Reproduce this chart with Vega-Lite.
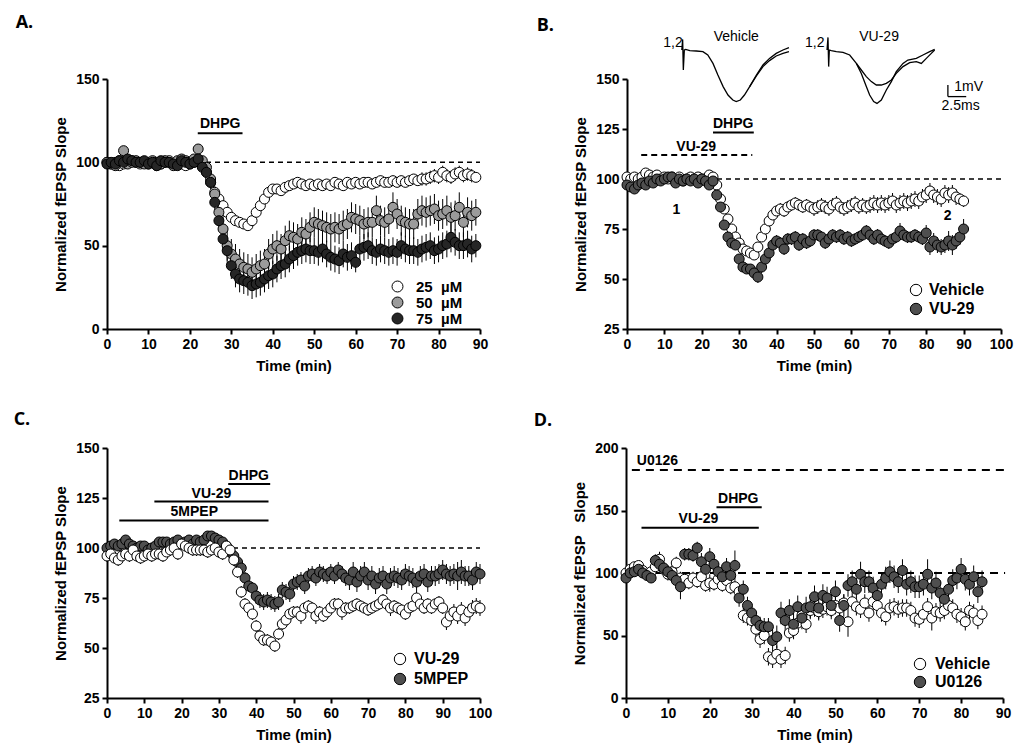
{
"$schema":"https://vega.github.io/schema/vega-lite/v6.json",
"background":"white",
"padding":{"left":13,"top":14,"right":5,"bottom":2},
"spacing":38,
"resolve":{"scale":{"fill":"independent"},"legend":{"fill":"independent"}},
"config":{
 "view":{"stroke":null},
 "axis":{"domainColor":"black","domainWidth":2,"tickColor":"black","tickWidth":2,"tickSize":5,"labelFont":"Liberation Sans","labelFontWeight":"bold","labelFontSize":14,"labelColor":"black","labelPadding":3,"labelFlush":false,"labelOverlap":false,"titleFont":"Liberation Sans","titleFontWeight":"bold","titleFontSize":15,"titleColor":"black","titlePadding":7,"grid":false},
 "legend":{"orient":"none","title":null,"symbolType":"circle","symbolStrokeColor":"black","symbolStrokeWidth":1,"symbolSize":130,"symbolOpacity":1,"labelFont":"Liberation Sans","labelFontWeight":"bold","labelFontSize":16,"labelColor":"black","rowPadding":3,"labelOffset":6,"padding":0},
 "title":{"font":"Open Sans","fontSize":18,"fontWeight":"bold","anchor":"start","frame":"bounds","color":"black"},
 "text":{"font":"Liberation Sans","fontWeight":"bold","fontSize":14,"color":"black"}
},
"datasets":{
"A":[
{"g":"25","t":0,"v":100,"e":1.5},{"g":"25","t":1,"v":99,"e":1.5},{"g":"25","t":2,"v":100,"e":1.5},{"g":"25","t":3,"v":98,"e":1.5},{"g":"25","t":4,"v":99,"e":1.5},{"g":"25","t":5,"v":100,"e":1.5},{"g":"25","t":6,"v":101,"e":1.5},{"g":"25","t":7,"v":100,"e":1.5},{"g":"25","t":8,"v":99,"e":1.5},{"g":"25","t":9,"v":100,"e":1.5},{"g":"25","t":10,"v":99,"e":1.5},{"g":"25","t":11,"v":100,"e":1.5},{"g":"25","t":12,"v":98,"e":1.5},{"g":"25","t":13,"v":99,"e":1.5},{"g":"25","t":14,"v":100,"e":1.5},{"g":"25","t":15,"v":101,"e":1.5},{"g":"25","t":16,"v":99,"e":1.5},{"g":"25","t":17,"v":100,"e":1.5},{"g":"25","t":18,"v":99,"e":1.5},{"g":"25","t":19,"v":98,"e":1.5},{"g":"25","t":20,"v":99,"e":1.5},{"g":"25","t":21,"v":100,"e":1.5},{"g":"25","t":22,"v":101,"e":1.5},{"g":"25","t":23,"v":98,"e":2},{"g":"25","t":24,"v":94,"e":2},{"g":"25","t":25,"v":88,"e":2},{"g":"25","t":26,"v":82,"e":2},{"g":"25","t":27,"v":78,"e":2},{"g":"25","t":28,"v":74,"e":2},{"g":"25","t":29,"v":70,"e":2},{"g":"25","t":30,"v":67,"e":2},{"g":"25","t":31,"v":65,"e":2},{"g":"25","t":32,"v":64,"e":2},{"g":"25","t":33,"v":63,"e":2},{"g":"25","t":34,"v":62,"e":2},{"g":"25","t":35,"v":65,"e":2},{"g":"25","t":36,"v":70,"e":2},{"g":"25","t":37,"v":74,"e":2},{"g":"25","t":38,"v":78,"e":2},{"g":"25","t":39,"v":82,"e":2},{"g":"25","t":40,"v":84,"e":2},{"g":"25","t":41,"v":84,"e":3},{"g":"25","t":42,"v":83,"e":3},{"g":"25","t":43,"v":85,"e":3},{"g":"25","t":44,"v":86,"e":3},{"g":"25","t":45,"v":87,"e":3},{"g":"25","t":46,"v":88,"e":3},{"g":"25","t":47,"v":87,"e":3},{"g":"25","t":48,"v":86,"e":3},{"g":"25","t":49,"v":87,"e":3},{"g":"25","t":50,"v":86,"e":3},{"g":"25","t":51,"v":87,"e":3},{"g":"25","t":52,"v":86,"e":3},{"g":"25","t":53,"v":87,"e":3},{"g":"25","t":54,"v":86,"e":3},{"g":"25","t":55,"v":88,"e":3},{"g":"25","t":56,"v":87,"e":3},{"g":"25","t":57,"v":86,"e":3},{"g":"25","t":58,"v":88,"e":3},{"g":"25","t":59,"v":87,"e":3},{"g":"25","t":60,"v":88,"e":3},{"g":"25","t":61,"v":87,"e":3},{"g":"25","t":62,"v":88,"e":3},{"g":"25","t":63,"v":88,"e":3},{"g":"25","t":64,"v":87,"e":3},{"g":"25","t":65,"v":88,"e":3},{"g":"25","t":66,"v":89,"e":3},{"g":"25","t":67,"v":88,"e":3},{"g":"25","t":68,"v":88,"e":3},{"g":"25","t":69,"v":89,"e":3},{"g":"25","t":70,"v":88,"e":3},{"g":"25","t":71,"v":89,"e":3},{"g":"25","t":72,"v":88,"e":3},{"g":"25","t":73,"v":89,"e":3},{"g":"25","t":74,"v":90,"e":3},{"g":"25","t":75,"v":89,"e":3},{"g":"25","t":76,"v":90,"e":4},{"g":"25","t":77,"v":90,"e":4},{"g":"25","t":78,"v":91,"e":4},{"g":"25","t":79,"v":92,"e":4},{"g":"25","t":80,"v":91,"e":4},{"g":"25","t":81,"v":94,"e":4},{"g":"25","t":82,"v":92,"e":4},{"g":"25","t":83,"v":91,"e":4},{"g":"25","t":84,"v":93,"e":4},{"g":"25","t":85,"v":94,"e":4},{"g":"25","t":86,"v":92,"e":4},{"g":"25","t":87,"v":93,"e":4},{"g":"25","t":88,"v":92,"e":4},{"g":"25","t":89,"v":91,"e":3},
{"g":"50","t":0,"v":100,"e":2},{"g":"50","t":1,"v":99,"e":2},{"g":"50","t":2,"v":98,"e":2},{"g":"50","t":3,"v":101,"e":2},{"g":"50","t":4,"v":107,"e":2},{"g":"50","t":5,"v":99,"e":2},{"g":"50","t":6,"v":100,"e":2},{"g":"50","t":7,"v":101,"e":2},{"g":"50","t":8,"v":100,"e":2},{"g":"50","t":9,"v":99,"e":2},{"g":"50","t":10,"v":100,"e":2},{"g":"50","t":11,"v":101,"e":2},{"g":"50","t":12,"v":100,"e":2},{"g":"50","t":13,"v":99,"e":2},{"g":"50","t":14,"v":101,"e":2},{"g":"50","t":15,"v":100,"e":2},{"g":"50","t":16,"v":98,"e":2},{"g":"50","t":17,"v":101,"e":2},{"g":"50","t":18,"v":102,"e":2},{"g":"50","t":19,"v":101,"e":2},{"g":"50","t":20,"v":100,"e":2},{"g":"50","t":21,"v":102,"e":2},{"g":"50","t":22,"v":108,"e":3},{"g":"50","t":23,"v":101,"e":2},{"g":"50","t":24,"v":97,"e":4},{"g":"50","t":25,"v":90,"e":5},{"g":"50","t":26,"v":81,"e":6},{"g":"50","t":27,"v":70,"e":7},{"g":"50","t":28,"v":60,"e":8},{"g":"50","t":29,"v":50,"e":9},{"g":"50","t":30,"v":45,"e":9},{"g":"50","t":31,"v":42,"e":9},{"g":"50","t":32,"v":39,"e":9},{"g":"50","t":33,"v":37,"e":9},{"g":"50","t":34,"v":36,"e":9},{"g":"50","t":35,"v":34,"e":9},{"g":"50","t":36,"v":36,"e":9},{"g":"50","t":37,"v":38,"e":9},{"g":"50","t":38,"v":39,"e":9},{"g":"50","t":39,"v":45,"e":9},{"g":"50","t":40,"v":48,"e":9},{"g":"50","t":41,"v":50,"e":9},{"g":"50","t":42,"v":48,"e":9},{"g":"50","t":43,"v":53,"e":9},{"g":"50","t":44,"v":56,"e":9},{"g":"50","t":45,"v":55,"e":9},{"g":"50","t":46,"v":54,"e":9},{"g":"50","t":47,"v":58,"e":9},{"g":"50","t":48,"v":57,"e":9},{"g":"50","t":49,"v":61,"e":9},{"g":"50","t":50,"v":64,"e":9},{"g":"50","t":51,"v":63,"e":9},{"g":"50","t":52,"v":62,"e":9},{"g":"50","t":53,"v":61,"e":9},{"g":"50","t":54,"v":60,"e":9},{"g":"50","t":55,"v":61,"e":9},{"g":"50","t":56,"v":60,"e":9},{"g":"50","t":57,"v":62,"e":9},{"g":"50","t":58,"v":63,"e":9},{"g":"50","t":59,"v":67,"e":9},{"g":"50","t":60,"v":66,"e":9},{"g":"50","t":61,"v":65,"e":9},{"g":"50","t":62,"v":63,"e":9},{"g":"50","t":63,"v":64,"e":9},{"g":"50","t":64,"v":64,"e":9},{"g":"50","t":65,"v":71,"e":9},{"g":"50","t":66,"v":65,"e":9},{"g":"50","t":67,"v":64,"e":9},{"g":"50","t":68,"v":66,"e":9},{"g":"50","t":69,"v":73,"e":9},{"g":"50","t":70,"v":69,"e":9},{"g":"50","t":71,"v":65,"e":9},{"g":"50","t":72,"v":64,"e":9},{"g":"50","t":73,"v":63,"e":9},{"g":"50","t":74,"v":63,"e":9},{"g":"50","t":75,"v":69,"e":9},{"g":"50","t":76,"v":71,"e":9},{"g":"50","t":77,"v":70,"e":9},{"g":"50","t":78,"v":71,"e":9},{"g":"50","t":79,"v":72,"e":9},{"g":"50","t":80,"v":68,"e":9},{"g":"50","t":81,"v":69,"e":9},{"g":"50","t":82,"v":71,"e":9},{"g":"50","t":83,"v":67,"e":9},{"g":"50","t":84,"v":68,"e":9},{"g":"50","t":85,"v":73,"e":9},{"g":"50","t":86,"v":64,"e":9},{"g":"50","t":87,"v":70,"e":9},{"g":"50","t":88,"v":68,"e":9},{"g":"50","t":89,"v":70,"e":8},
{"g":"75","t":0,"v":99,"e":2},{"g":"75","t":1,"v":100,"e":2},{"g":"75","t":2,"v":99,"e":2},{"g":"75","t":3,"v":101,"e":2},{"g":"75","t":4,"v":100,"e":2},{"g":"75","t":5,"v":102,"e":2},{"g":"75","t":6,"v":101,"e":2},{"g":"75","t":7,"v":100,"e":2},{"g":"75","t":8,"v":100,"e":2},{"g":"75","t":9,"v":101,"e":2},{"g":"75","t":10,"v":99,"e":2},{"g":"75","t":11,"v":100,"e":2},{"g":"75","t":12,"v":98,"e":2},{"g":"75","t":13,"v":101,"e":2},{"g":"75","t":14,"v":100,"e":2},{"g":"75","t":15,"v":100,"e":2},{"g":"75","t":16,"v":99,"e":2},{"g":"75","t":17,"v":98,"e":2},{"g":"75","t":18,"v":101,"e":2},{"g":"75","t":19,"v":100,"e":2},{"g":"75","t":20,"v":99,"e":2},{"g":"75","t":21,"v":100,"e":2},{"g":"75","t":22,"v":102,"e":2},{"g":"75","t":23,"v":97,"e":2},{"g":"75","t":24,"v":94,"e":3},{"g":"75","t":25,"v":88,"e":4},{"g":"75","t":26,"v":76,"e":5},{"g":"75","t":27,"v":65,"e":6},{"g":"75","t":28,"v":54,"e":7},{"g":"75","t":29,"v":47,"e":8},{"g":"75","t":30,"v":38,"e":8},{"g":"75","t":31,"v":33,"e":8},{"g":"75","t":32,"v":30,"e":8},{"g":"75","t":33,"v":29,"e":8},{"g":"75","t":34,"v":28,"e":8},{"g":"75","t":35,"v":26,"e":8},{"g":"75","t":36,"v":27,"e":8},{"g":"75","t":37,"v":28,"e":8},{"g":"75","t":38,"v":30,"e":8},{"g":"75","t":39,"v":32,"e":8},{"g":"75","t":40,"v":33,"e":8},{"g":"75","t":41,"v":36,"e":8},{"g":"75","t":42,"v":38,"e":8},{"g":"75","t":43,"v":39,"e":8},{"g":"75","t":44,"v":42,"e":8},{"g":"75","t":45,"v":44,"e":8},{"g":"75","t":46,"v":46,"e":8},{"g":"75","t":47,"v":47,"e":8},{"g":"75","t":48,"v":48,"e":8},{"g":"75","t":49,"v":47,"e":8},{"g":"75","t":50,"v":47,"e":8},{"g":"75","t":51,"v":46,"e":8},{"g":"75","t":52,"v":48,"e":8},{"g":"75","t":53,"v":45,"e":8},{"g":"75","t":54,"v":43,"e":8},{"g":"75","t":55,"v":42,"e":8},{"g":"75","t":56,"v":41,"e":8},{"g":"75","t":57,"v":45,"e":8},{"g":"75","t":58,"v":43,"e":8},{"g":"75","t":59,"v":44,"e":8},{"g":"75","t":60,"v":40,"e":6},{"g":"75","t":61,"v":48,"e":8},{"g":"75","t":62,"v":49,"e":8},{"g":"75","t":63,"v":50,"e":8},{"g":"75","t":64,"v":47,"e":8},{"g":"75","t":65,"v":46,"e":8},{"g":"75","t":66,"v":48,"e":8},{"g":"75","t":67,"v":47,"e":8},{"g":"75","t":68,"v":46,"e":8},{"g":"75","t":69,"v":47,"e":8},{"g":"75","t":70,"v":46,"e":8},{"g":"75","t":71,"v":50,"e":8},{"g":"75","t":72,"v":48,"e":8},{"g":"75","t":73,"v":47,"e":8},{"g":"75","t":74,"v":47,"e":8},{"g":"75","t":75,"v":46,"e":8},{"g":"75","t":76,"v":48,"e":8},{"g":"75","t":77,"v":49,"e":8},{"g":"75","t":78,"v":50,"e":8},{"g":"75","t":79,"v":47,"e":8},{"g":"75","t":80,"v":48,"e":8},{"g":"75","t":81,"v":50,"e":8},{"g":"75","t":82,"v":51,"e":8},{"g":"75","t":83,"v":55,"e":9},{"g":"75","t":84,"v":52,"e":8},{"g":"75","t":85,"v":50,"e":8},{"g":"75","t":86,"v":50,"e":8},{"g":"75","t":87,"v":51,"e":8},{"g":"75","t":88,"v":48,"e":8},{"g":"75","t":89,"v":50,"e":7}
],
"B":[
{"g":"Vehicle","t":0,"v":101,"e":1.5},{"g":"Vehicle","t":1,"v":100,"e":1.5},{"g":"Vehicle","t":2,"v":101,"e":1.5},{"g":"Vehicle","t":3,"v":100,"e":1.5},{"g":"Vehicle","t":4,"v":101,"e":1.5},{"g":"Vehicle","t":5,"v":103,"e":1.5},{"g":"Vehicle","t":6,"v":102,"e":1.5},{"g":"Vehicle","t":7,"v":101,"e":1.5},{"g":"Vehicle","t":8,"v":102,"e":1.5},{"g":"Vehicle","t":9,"v":100,"e":1.5},{"g":"Vehicle","t":10,"v":101,"e":1.5},{"g":"Vehicle","t":11,"v":100,"e":1.5},{"g":"Vehicle","t":12,"v":101,"e":1.5},{"g":"Vehicle","t":13,"v":100,"e":1.5},{"g":"Vehicle","t":14,"v":101,"e":1.5},{"g":"Vehicle","t":15,"v":99,"e":1.5},{"g":"Vehicle","t":16,"v":100,"e":1.5},{"g":"Vehicle","t":17,"v":101,"e":1.5},{"g":"Vehicle","t":18,"v":100,"e":1.5},{"g":"Vehicle","t":19,"v":101,"e":1.5},{"g":"Vehicle","t":20,"v":100,"e":1.5},{"g":"Vehicle","t":21,"v":100,"e":1.5},{"g":"Vehicle","t":22,"v":102,"e":1.5},{"g":"Vehicle","t":23,"v":101,"e":1.5},{"g":"Vehicle","t":24,"v":97,"e":2},{"g":"Vehicle","t":25,"v":90,"e":2},{"g":"Vehicle","t":26,"v":85,"e":2},{"g":"Vehicle","t":27,"v":80,"e":2},{"g":"Vehicle","t":28,"v":75,"e":2},{"g":"Vehicle","t":29,"v":71,"e":2},{"g":"Vehicle","t":30,"v":68,"e":2},{"g":"Vehicle","t":31,"v":65,"e":2},{"g":"Vehicle","t":32,"v":64,"e":2},{"g":"Vehicle","t":33,"v":63,"e":2},{"g":"Vehicle","t":34,"v":62,"e":2},{"g":"Vehicle","t":35,"v":66,"e":2},{"g":"Vehicle","t":36,"v":71,"e":2},{"g":"Vehicle","t":37,"v":75,"e":2},{"g":"Vehicle","t":38,"v":79,"e":2},{"g":"Vehicle","t":39,"v":82,"e":2},{"g":"Vehicle","t":40,"v":84,"e":3},{"g":"Vehicle","t":41,"v":85,"e":3},{"g":"Vehicle","t":42,"v":84,"e":3},{"g":"Vehicle","t":43,"v":86,"e":3},{"g":"Vehicle","t":44,"v":87,"e":3},{"g":"Vehicle","t":45,"v":88,"e":3},{"g":"Vehicle","t":46,"v":87,"e":3},{"g":"Vehicle","t":47,"v":86,"e":3},{"g":"Vehicle","t":48,"v":87,"e":3},{"g":"Vehicle","t":49,"v":86,"e":3},{"g":"Vehicle","t":50,"v":85,"e":3.5},{"g":"Vehicle","t":51,"v":86,"e":3.5},{"g":"Vehicle","t":52,"v":87,"e":3.5},{"g":"Vehicle","t":53,"v":86,"e":3.5},{"g":"Vehicle","t":54,"v":85,"e":3.5},{"g":"Vehicle","t":55,"v":87,"e":3.5},{"g":"Vehicle","t":56,"v":88,"e":3.5},{"g":"Vehicle","t":57,"v":86,"e":3.5},{"g":"Vehicle","t":58,"v":85,"e":3.5},{"g":"Vehicle","t":59,"v":86,"e":3.5},{"g":"Vehicle","t":60,"v":87,"e":3.5},{"g":"Vehicle","t":61,"v":88,"e":3.5},{"g":"Vehicle","t":62,"v":86,"e":3.5},{"g":"Vehicle","t":63,"v":87,"e":3.5},{"g":"Vehicle","t":64,"v":86,"e":3.5},{"g":"Vehicle","t":65,"v":87,"e":4},{"g":"Vehicle","t":66,"v":88,"e":4},{"g":"Vehicle","t":67,"v":87,"e":4},{"g":"Vehicle","t":68,"v":88,"e":4},{"g":"Vehicle","t":69,"v":87,"e":4},{"g":"Vehicle","t":70,"v":88,"e":4},{"g":"Vehicle","t":71,"v":89,"e":4},{"g":"Vehicle","t":72,"v":87,"e":4},{"g":"Vehicle","t":73,"v":88,"e":4},{"g":"Vehicle","t":74,"v":89,"e":4},{"g":"Vehicle","t":75,"v":88,"e":4},{"g":"Vehicle","t":76,"v":89,"e":4},{"g":"Vehicle","t":77,"v":90,"e":4},{"g":"Vehicle","t":78,"v":89,"e":4},{"g":"Vehicle","t":79,"v":91,"e":4},{"g":"Vehicle","t":80,"v":92,"e":4},{"g":"Vehicle","t":81,"v":94,"e":4},{"g":"Vehicle","t":82,"v":92,"e":4},{"g":"Vehicle","t":83,"v":91,"e":4},{"g":"Vehicle","t":84,"v":90,"e":4},{"g":"Vehicle","t":85,"v":93,"e":4},{"g":"Vehicle","t":86,"v":92,"e":4},{"g":"Vehicle","t":87,"v":93,"e":4},{"g":"Vehicle","t":88,"v":91,"e":4},{"g":"Vehicle","t":89,"v":90,"e":3},{"g":"Vehicle","t":90,"v":89,"e":3},
{"g":"VU-29","t":0,"v":97,"e":2},{"g":"VU-29","t":1,"v":96,"e":2},{"g":"VU-29","t":2,"v":95,"e":2},{"g":"VU-29","t":3,"v":97,"e":2},{"g":"VU-29","t":4,"v":98,"e":2},{"g":"VU-29","t":5,"v":97,"e":2},{"g":"VU-29","t":6,"v":99,"e":2},{"g":"VU-29","t":7,"v":98,"e":2},{"g":"VU-29","t":8,"v":100,"e":2},{"g":"VU-29","t":9,"v":99,"e":2},{"g":"VU-29","t":10,"v":100,"e":2},{"g":"VU-29","t":11,"v":101,"e":2},{"g":"VU-29","t":12,"v":101,"e":2},{"g":"VU-29","t":13,"v":98,"e":2},{"g":"VU-29","t":14,"v":100,"e":2},{"g":"VU-29","t":15,"v":99,"e":2},{"g":"VU-29","t":16,"v":100,"e":2},{"g":"VU-29","t":17,"v":99,"e":2},{"g":"VU-29","t":18,"v":100,"e":2},{"g":"VU-29","t":19,"v":98,"e":2},{"g":"VU-29","t":20,"v":100,"e":2},{"g":"VU-29","t":21,"v":99,"e":2},{"g":"VU-29","t":22,"v":97,"e":2},{"g":"VU-29","t":23,"v":99,"e":2},{"g":"VU-29","t":24,"v":92,"e":2},{"g":"VU-29","t":25,"v":86,"e":2},{"g":"VU-29","t":26,"v":77,"e":2},{"g":"VU-29","t":27,"v":71,"e":2},{"g":"VU-29","t":28,"v":68,"e":2},{"g":"VU-29","t":29,"v":67,"e":2},{"g":"VU-29","t":30,"v":60,"e":2},{"g":"VU-29","t":31,"v":56,"e":2},{"g":"VU-29","t":32,"v":55,"e":2},{"g":"VU-29","t":33,"v":55,"e":2},{"g":"VU-29","t":34,"v":53,"e":2},{"g":"VU-29","t":35,"v":51,"e":3},{"g":"VU-29","t":36,"v":56,"e":3},{"g":"VU-29","t":37,"v":60,"e":3},{"g":"VU-29","t":38,"v":63,"e":3},{"g":"VU-29","t":39,"v":67,"e":3},{"g":"VU-29","t":40,"v":69,"e":3},{"g":"VU-29","t":41,"v":68,"e":3},{"g":"VU-29","t":42,"v":65,"e":3},{"g":"VU-29","t":43,"v":70,"e":3},{"g":"VU-29","t":44,"v":70,"e":3},{"g":"VU-29","t":45,"v":71,"e":3},{"g":"VU-29","t":46,"v":67,"e":3},{"g":"VU-29","t":47,"v":70,"e":3},{"g":"VU-29","t":48,"v":68,"e":3},{"g":"VU-29","t":49,"v":69,"e":3},{"g":"VU-29","t":50,"v":72,"e":3},{"g":"VU-29","t":51,"v":72,"e":3},{"g":"VU-29","t":52,"v":71,"e":3},{"g":"VU-29","t":53,"v":68,"e":3},{"g":"VU-29","t":54,"v":70,"e":3},{"g":"VU-29","t":55,"v":72,"e":3},{"g":"VU-29","t":56,"v":71,"e":3},{"g":"VU-29","t":57,"v":72,"e":3},{"g":"VU-29","t":58,"v":70,"e":3},{"g":"VU-29","t":59,"v":71,"e":3},{"g":"VU-29","t":60,"v":69,"e":3},{"g":"VU-29","t":61,"v":70,"e":3},{"g":"VU-29","t":62,"v":71,"e":3},{"g":"VU-29","t":63,"v":72,"e":3},{"g":"VU-29","t":64,"v":74,"e":3},{"g":"VU-29","t":65,"v":72,"e":3},{"g":"VU-29","t":66,"v":70,"e":3},{"g":"VU-29","t":67,"v":72,"e":3},{"g":"VU-29","t":68,"v":70,"e":3},{"g":"VU-29","t":69,"v":69,"e":3},{"g":"VU-29","t":70,"v":68,"e":3},{"g":"VU-29","t":71,"v":70,"e":3},{"g":"VU-29","t":72,"v":71,"e":3},{"g":"VU-29","t":73,"v":74,"e":4},{"g":"VU-29","t":74,"v":72,"e":3},{"g":"VU-29","t":75,"v":71,"e":3},{"g":"VU-29","t":76,"v":71,"e":3},{"g":"VU-29","t":77,"v":72,"e":3},{"g":"VU-29","t":78,"v":71,"e":3},{"g":"VU-29","t":79,"v":70,"e":3},{"g":"VU-29","t":80,"v":73,"e":4},{"g":"VU-29","t":81,"v":66,"e":4},{"g":"VU-29","t":82,"v":69,"e":4},{"g":"VU-29","t":83,"v":67,"e":4},{"g":"VU-29","t":84,"v":66,"e":4},{"g":"VU-29","t":85,"v":67,"e":4},{"g":"VU-29","t":86,"v":69,"e":5},{"g":"VU-29","t":87,"v":67,"e":5},{"g":"VU-29","t":88,"v":69,"e":4},{"g":"VU-29","t":89,"v":71,"e":4},{"g":"VU-29","t":90,"v":75,"e":5}
],
"C":[
{"g":"5MPEP","t":0,"v":100,"e":2},{"g":"5MPEP","t":1,"v":101,"e":2},{"g":"5MPEP","t":2,"v":102,"e":2},{"g":"5MPEP","t":3,"v":101,"e":2},{"g":"5MPEP","t":4,"v":102,"e":2},{"g":"5MPEP","t":5,"v":104,"e":2},{"g":"5MPEP","t":6,"v":102,"e":2},{"g":"5MPEP","t":7,"v":101,"e":2},{"g":"5MPEP","t":8,"v":100,"e":2},{"g":"5MPEP","t":9,"v":101,"e":2},{"g":"5MPEP","t":10,"v":101,"e":2},{"g":"5MPEP","t":11,"v":99,"e":2},{"g":"5MPEP","t":12,"v":100,"e":2},{"g":"5MPEP","t":13,"v":101,"e":2},{"g":"5MPEP","t":14,"v":103,"e":2},{"g":"5MPEP","t":15,"v":103,"e":2},{"g":"5MPEP","t":16,"v":103,"e":2},{"g":"5MPEP","t":17,"v":102,"e":2},{"g":"5MPEP","t":18,"v":103,"e":2},{"g":"5MPEP","t":19,"v":104,"e":2},{"g":"5MPEP","t":20,"v":102,"e":2},{"g":"5MPEP","t":21,"v":103,"e":2},{"g":"5MPEP","t":22,"v":104,"e":2},{"g":"5MPEP","t":23,"v":102,"e":2},{"g":"5MPEP","t":24,"v":104,"e":2},{"g":"5MPEP","t":25,"v":103,"e":2},{"g":"5MPEP","t":26,"v":104,"e":2},{"g":"5MPEP","t":27,"v":106,"e":2},{"g":"5MPEP","t":28,"v":106,"e":2},{"g":"5MPEP","t":29,"v":105,"e":2},{"g":"5MPEP","t":30,"v":104,"e":2},{"g":"5MPEP","t":31,"v":103,"e":2},{"g":"5MPEP","t":32,"v":101,"e":2},{"g":"5MPEP","t":33,"v":98,"e":2},{"g":"5MPEP","t":34,"v":96,"e":3},{"g":"5MPEP","t":35,"v":93,"e":3},{"g":"5MPEP","t":36,"v":90,"e":3},{"g":"5MPEP","t":37,"v":85,"e":3},{"g":"5MPEP","t":38,"v":81,"e":3},{"g":"5MPEP","t":39,"v":80,"e":3},{"g":"5MPEP","t":40,"v":76,"e":4},{"g":"5MPEP","t":41,"v":74,"e":4},{"g":"5MPEP","t":42,"v":73,"e":4},{"g":"5MPEP","t":43,"v":74,"e":4},{"g":"5MPEP","t":44,"v":73,"e":4},{"g":"5MPEP","t":45,"v":72,"e":4},{"g":"5MPEP","t":46,"v":73,"e":4},{"g":"5MPEP","t":47,"v":79,"e":4},{"g":"5MPEP","t":48,"v":78,"e":4},{"g":"5MPEP","t":49,"v":77,"e":4},{"g":"5MPEP","t":50,"v":82,"e":4},{"g":"5MPEP","t":51,"v":83,"e":4},{"g":"5MPEP","t":52,"v":84,"e":4},{"g":"5MPEP","t":53,"v":81,"e":4},{"g":"5MPEP","t":54,"v":86,"e":4},{"g":"5MPEP","t":55,"v":87,"e":4},{"g":"5MPEP","t":56,"v":85,"e":4},{"g":"5MPEP","t":57,"v":88,"e":4},{"g":"5MPEP","t":58,"v":87,"e":4},{"g":"5MPEP","t":59,"v":86,"e":4},{"g":"5MPEP","t":60,"v":88,"e":4},{"g":"5MPEP","t":61,"v":86,"e":4},{"g":"5MPEP","t":62,"v":89,"e":4},{"g":"5MPEP","t":63,"v":87,"e":4},{"g":"5MPEP","t":64,"v":85,"e":4},{"g":"5MPEP","t":65,"v":84,"e":5},{"g":"5MPEP","t":66,"v":88,"e":5},{"g":"5MPEP","t":67,"v":83,"e":5},{"g":"5MPEP","t":68,"v":86,"e":5},{"g":"5MPEP","t":69,"v":88,"e":5},{"g":"5MPEP","t":70,"v":84,"e":5},{"g":"5MPEP","t":71,"v":86,"e":5},{"g":"5MPEP","t":72,"v":82,"e":5},{"g":"5MPEP","t":73,"v":85,"e":5},{"g":"5MPEP","t":74,"v":86,"e":5},{"g":"5MPEP","t":75,"v":82,"e":5},{"g":"5MPEP","t":76,"v":85,"e":5},{"g":"5MPEP","t":77,"v":86,"e":5},{"g":"5MPEP","t":78,"v":85,"e":5},{"g":"5MPEP","t":79,"v":84,"e":5},{"g":"5MPEP","t":80,"v":87,"e":5},{"g":"5MPEP","t":81,"v":86,"e":5},{"g":"5MPEP","t":82,"v":85,"e":5},{"g":"5MPEP","t":83,"v":83,"e":5},{"g":"5MPEP","t":84,"v":86,"e":5},{"g":"5MPEP","t":85,"v":87,"e":5},{"g":"5MPEP","t":86,"v":83,"e":5},{"g":"5MPEP","t":87,"v":86,"e":5},{"g":"5MPEP","t":88,"v":86,"e":5},{"g":"5MPEP","t":89,"v":87,"e":5},{"g":"5MPEP","t":90,"v":89,"e":5},{"g":"5MPEP","t":91,"v":87,"e":5},{"g":"5MPEP","t":92,"v":86,"e":5},{"g":"5MPEP","t":93,"v":87,"e":5},{"g":"5MPEP","t":94,"v":86,"e":7},{"g":"5MPEP","t":95,"v":88,"e":6},{"g":"5MPEP","t":96,"v":86,"e":5},{"g":"5MPEP","t":97,"v":86,"e":5},{"g":"5MPEP","t":98,"v":84,"e":5},{"g":"5MPEP","t":99,"v":88,"e":5},{"g":"5MPEP","t":100,"v":87,"e":5},
{"g":"VU-29","t":0,"v":96,"e":3},{"g":"VU-29","t":1,"v":97,"e":3},{"g":"VU-29","t":2,"v":95,"e":3},{"g":"VU-29","t":3,"v":94,"e":3},{"g":"VU-29","t":4,"v":96,"e":3},{"g":"VU-29","t":5,"v":97,"e":3},{"g":"VU-29","t":6,"v":96,"e":3},{"g":"VU-29","t":7,"v":99,"e":3},{"g":"VU-29","t":8,"v":96,"e":3},{"g":"VU-29","t":9,"v":95,"e":3},{"g":"VU-29","t":10,"v":96,"e":3},{"g":"VU-29","t":11,"v":97,"e":3},{"g":"VU-29","t":12,"v":96,"e":3},{"g":"VU-29","t":13,"v":97,"e":3},{"g":"VU-29","t":14,"v":97,"e":3},{"g":"VU-29","t":15,"v":96,"e":3},{"g":"VU-29","t":16,"v":98,"e":3},{"g":"VU-29","t":17,"v":99,"e":3},{"g":"VU-29","t":18,"v":100,"e":3},{"g":"VU-29","t":19,"v":97,"e":3},{"g":"VU-29","t":20,"v":102,"e":3},{"g":"VU-29","t":21,"v":101,"e":3},{"g":"VU-29","t":22,"v":100,"e":3},{"g":"VU-29","t":23,"v":99,"e":3},{"g":"VU-29","t":24,"v":99,"e":3},{"g":"VU-29","t":25,"v":99,"e":3},{"g":"VU-29","t":26,"v":99,"e":3},{"g":"VU-29","t":27,"v":98,"e":3},{"g":"VU-29","t":28,"v":99,"e":3},{"g":"VU-29","t":29,"v":100,"e":3},{"g":"VU-29","t":30,"v":98,"e":3},{"g":"VU-29","t":31,"v":97,"e":3},{"g":"VU-29","t":32,"v":101,"e":3},{"g":"VU-29","t":33,"v":99,"e":3},{"g":"VU-29","t":34,"v":94,"e":3},{"g":"VU-29","t":35,"v":88,"e":3},{"g":"VU-29","t":36,"v":78,"e":3},{"g":"VU-29","t":37,"v":72,"e":3},{"g":"VU-29","t":38,"v":70,"e":3},{"g":"VU-29","t":39,"v":67,"e":3},{"g":"VU-29","t":40,"v":61,"e":3},{"g":"VU-29","t":41,"v":56,"e":3},{"g":"VU-29","t":42,"v":54,"e":3},{"g":"VU-29","t":43,"v":54,"e":3},{"g":"VU-29","t":44,"v":53,"e":3},{"g":"VU-29","t":45,"v":51,"e":3},{"g":"VU-29","t":46,"v":57,"e":3},{"g":"VU-29","t":47,"v":62,"e":3},{"g":"VU-29","t":48,"v":64,"e":3},{"g":"VU-29","t":49,"v":67,"e":3},{"g":"VU-29","t":50,"v":68,"e":3},{"g":"VU-29","t":51,"v":68,"e":3},{"g":"VU-29","t":52,"v":66,"e":4},{"g":"VU-29","t":53,"v":70,"e":3},{"g":"VU-29","t":54,"v":71,"e":3},{"g":"VU-29","t":55,"v":70,"e":3},{"g":"VU-29","t":56,"v":66,"e":4},{"g":"VU-29","t":57,"v":68,"e":3},{"g":"VU-29","t":58,"v":66,"e":3},{"g":"VU-29","t":59,"v":68,"e":3},{"g":"VU-29","t":60,"v":70,"e":3},{"g":"VU-29","t":61,"v":72,"e":3},{"g":"VU-29","t":62,"v":72,"e":3},{"g":"VU-29","t":63,"v":68,"e":4},{"g":"VU-29","t":64,"v":70,"e":3},{"g":"VU-29","t":65,"v":70,"e":3},{"g":"VU-29","t":66,"v":71,"e":3},{"g":"VU-29","t":67,"v":72,"e":3},{"g":"VU-29","t":68,"v":71,"e":3},{"g":"VU-29","t":69,"v":70,"e":3},{"g":"VU-29","t":70,"v":69,"e":3},{"g":"VU-29","t":71,"v":70,"e":3},{"g":"VU-29","t":72,"v":71,"e":3},{"g":"VU-29","t":73,"v":72,"e":3},{"g":"VU-29","t":74,"v":74,"e":3},{"g":"VU-29","t":75,"v":72,"e":3},{"g":"VU-29","t":76,"v":70,"e":4},{"g":"VU-29","t":77,"v":71,"e":3},{"g":"VU-29","t":78,"v":70,"e":3},{"g":"VU-29","t":79,"v":69,"e":3},{"g":"VU-29","t":80,"v":67,"e":3},{"g":"VU-29","t":81,"v":70,"e":3},{"g":"VU-29","t":82,"v":71,"e":3},{"g":"VU-29","t":83,"v":75,"e":3},{"g":"VU-29","t":84,"v":72,"e":3},{"g":"VU-29","t":85,"v":70,"e":3},{"g":"VU-29","t":86,"v":72,"e":3},{"g":"VU-29","t":87,"v":70,"e":3},{"g":"VU-29","t":88,"v":72,"e":3},{"g":"VU-29","t":89,"v":73,"e":3},{"g":"VU-29","t":90,"v":70,"e":3},{"g":"VU-29","t":91,"v":63,"e":4},{"g":"VU-29","t":92,"v":66,"e":4},{"g":"VU-29","t":93,"v":68,"e":4},{"g":"VU-29","t":94,"v":66,"e":4},{"g":"VU-29","t":95,"v":69,"e":4},{"g":"VU-29","t":96,"v":65,"e":4},{"g":"VU-29","t":97,"v":68,"e":4},{"g":"VU-29","t":98,"v":70,"e":4},{"g":"VU-29","t":99,"v":71,"e":4},{"g":"VU-29","t":100,"v":70,"e":4}
],
"D":[
{"g":"Vehicle","t":0,"v":100,"e":3},{"g":"Vehicle","t":1,"v":103,"e":3},{"g":"Vehicle","t":2,"v":105,"e":3},{"g":"Vehicle","t":3,"v":106,"e":3},{"g":"Vehicle","t":4,"v":102,"e":3},{"g":"Vehicle","t":5,"v":99,"e":3},{"g":"Vehicle","t":6,"v":101,"e":3},{"g":"Vehicle","t":7,"v":105,"e":5},{"g":"Vehicle","t":8,"v":111,"e":6},{"g":"Vehicle","t":9,"v":103,"e":5},{"g":"Vehicle","t":10,"v":99,"e":5},{"g":"Vehicle","t":11,"v":101,"e":5},{"g":"Vehicle","t":12,"v":108,"e":5},{"g":"Vehicle","t":13,"v":96,"e":5},{"g":"Vehicle","t":14,"v":95,"e":5},{"g":"Vehicle","t":15,"v":92,"e":5},{"g":"Vehicle","t":16,"v":96,"e":5},{"g":"Vehicle","t":17,"v":93,"e":5},{"g":"Vehicle","t":18,"v":97,"e":5},{"g":"Vehicle","t":19,"v":90,"e":5},{"g":"Vehicle","t":20,"v":92,"e":7},{"g":"Vehicle","t":21,"v":91,"e":5},{"g":"Vehicle","t":22,"v":95,"e":5},{"g":"Vehicle","t":23,"v":90,"e":5},{"g":"Vehicle","t":24,"v":94,"e":5},{"g":"Vehicle","t":25,"v":88,"e":5},{"g":"Vehicle","t":26,"v":89,"e":5},{"g":"Vehicle","t":27,"v":85,"e":5},{"g":"Vehicle","t":28,"v":66,"e":6},{"g":"Vehicle","t":29,"v":64,"e":6},{"g":"Vehicle","t":30,"v":62,"e":6},{"g":"Vehicle","t":31,"v":55,"e":7},{"g":"Vehicle","t":32,"v":47,"e":7},{"g":"Vehicle","t":33,"v":50,"e":7},{"g":"Vehicle","t":34,"v":33,"e":7},{"g":"Vehicle","t":35,"v":31,"e":7},{"g":"Vehicle","t":36,"v":35,"e":7},{"g":"Vehicle","t":37,"v":31,"e":7},{"g":"Vehicle","t":38,"v":34,"e":7},{"g":"Vehicle","t":39,"v":52,"e":7},{"g":"Vehicle","t":40,"v":54,"e":7},{"g":"Vehicle","t":41,"v":60,"e":7},{"g":"Vehicle","t":42,"v":66,"e":7},{"g":"Vehicle","t":43,"v":59,"e":7},{"g":"Vehicle","t":44,"v":70,"e":7},{"g":"Vehicle","t":45,"v":72,"e":7},{"g":"Vehicle","t":46,"v":69,"e":7},{"g":"Vehicle","t":47,"v":71,"e":7},{"g":"Vehicle","t":48,"v":73,"e":7},{"g":"Vehicle","t":49,"v":70,"e":7},{"g":"Vehicle","t":50,"v":74,"e":7},{"g":"Vehicle","t":51,"v":72,"e":7},{"g":"Vehicle","t":52,"v":76,"e":7},{"g":"Vehicle","t":53,"v":61,"e":12},{"g":"Vehicle","t":54,"v":77,"e":7},{"g":"Vehicle","t":55,"v":73,"e":7},{"g":"Vehicle","t":56,"v":71,"e":7},{"g":"Vehicle","t":57,"v":76,"e":7},{"g":"Vehicle","t":58,"v":68,"e":7},{"g":"Vehicle","t":59,"v":77,"e":7},{"g":"Vehicle","t":60,"v":74,"e":7},{"g":"Vehicle","t":61,"v":68,"e":7},{"g":"Vehicle","t":62,"v":65,"e":7},{"g":"Vehicle","t":63,"v":72,"e":7},{"g":"Vehicle","t":64,"v":73,"e":7},{"g":"Vehicle","t":65,"v":71,"e":7},{"g":"Vehicle","t":66,"v":72,"e":7},{"g":"Vehicle","t":67,"v":72,"e":7},{"g":"Vehicle","t":68,"v":70,"e":7},{"g":"Vehicle","t":69,"v":64,"e":7},{"g":"Vehicle","t":70,"v":63,"e":7},{"g":"Vehicle","t":71,"v":67,"e":7},{"g":"Vehicle","t":72,"v":73,"e":7},{"g":"Vehicle","t":73,"v":64,"e":10},{"g":"Vehicle","t":74,"v":69,"e":7},{"g":"Vehicle","t":75,"v":68,"e":7},{"g":"Vehicle","t":76,"v":70,"e":7},{"g":"Vehicle","t":77,"v":74,"e":7},{"g":"Vehicle","t":78,"v":72,"e":7},{"g":"Vehicle","t":79,"v":67,"e":7},{"g":"Vehicle","t":80,"v":65,"e":7},{"g":"Vehicle","t":81,"v":61,"e":7},{"g":"Vehicle","t":82,"v":70,"e":7},{"g":"Vehicle","t":83,"v":68,"e":7},{"g":"Vehicle","t":84,"v":62,"e":7},{"g":"Vehicle","t":85,"v":67,"e":7},
{"g":"U0126","t":0,"v":96,"e":4},{"g":"U0126","t":1,"v":100,"e":4},{"g":"U0126","t":2,"v":101,"e":4},{"g":"U0126","t":3,"v":103,"e":4},{"g":"U0126","t":4,"v":100,"e":4},{"g":"U0126","t":5,"v":98,"e":4},{"g":"U0126","t":6,"v":96,"e":4},{"g":"U0126","t":7,"v":110,"e":5},{"g":"U0126","t":8,"v":107,"e":5},{"g":"U0126","t":9,"v":104,"e":5},{"g":"U0126","t":10,"v":101,"e":5},{"g":"U0126","t":11,"v":98,"e":5},{"g":"U0126","t":12,"v":94,"e":5},{"g":"U0126","t":13,"v":89,"e":10},{"g":"U0126","t":14,"v":115,"e":5},{"g":"U0126","t":15,"v":115,"e":5},{"g":"U0126","t":16,"v":114,"e":5},{"g":"U0126","t":17,"v":120,"e":5},{"g":"U0126","t":18,"v":109,"e":7},{"g":"U0126","t":19,"v":103,"e":7},{"g":"U0126","t":20,"v":113,"e":7},{"g":"U0126","t":21,"v":107,"e":7},{"g":"U0126","t":22,"v":101,"e":7},{"g":"U0126","t":23,"v":97,"e":7},{"g":"U0126","t":24,"v":105,"e":7},{"g":"U0126","t":25,"v":98,"e":7},{"g":"U0126","t":26,"v":106,"e":12},{"g":"U0126","t":27,"v":80,"e":7},{"g":"U0126","t":28,"v":87,"e":7},{"g":"U0126","t":29,"v":74,"e":7},{"g":"U0126","t":30,"v":68,"e":7},{"g":"U0126","t":31,"v":62,"e":7},{"g":"U0126","t":32,"v":58,"e":7},{"g":"U0126","t":33,"v":57,"e":7},{"g":"U0126","t":34,"v":57,"e":7},{"g":"U0126","t":35,"v":46,"e":9},{"g":"U0126","t":36,"v":49,"e":9},{"g":"U0126","t":37,"v":68,"e":9},{"g":"U0126","t":38,"v":62,"e":9},{"g":"U0126","t":39,"v":70,"e":9},{"g":"U0126","t":40,"v":59,"e":9},{"g":"U0126","t":41,"v":73,"e":9},{"g":"U0126","t":42,"v":64,"e":9},{"g":"U0126","t":43,"v":72,"e":9},{"g":"U0126","t":44,"v":73,"e":9},{"g":"U0126","t":45,"v":81,"e":9},{"g":"U0126","t":46,"v":72,"e":9},{"g":"U0126","t":47,"v":82,"e":9},{"g":"U0126","t":48,"v":80,"e":9},{"g":"U0126","t":49,"v":74,"e":9},{"g":"U0126","t":50,"v":85,"e":9},{"g":"U0126","t":51,"v":62,"e":9},{"g":"U0126","t":52,"v":74,"e":9},{"g":"U0126","t":53,"v":90,"e":9},{"g":"U0126","t":54,"v":93,"e":9},{"g":"U0126","t":55,"v":87,"e":9},{"g":"U0126","t":56,"v":99,"e":10},{"g":"U0126","t":57,"v":93,"e":9},{"g":"U0126","t":58,"v":93,"e":9},{"g":"U0126","t":59,"v":88,"e":9},{"g":"U0126","t":60,"v":82,"e":9},{"g":"U0126","t":61,"v":91,"e":9},{"g":"U0126","t":62,"v":96,"e":9},{"g":"U0126","t":63,"v":101,"e":9},{"g":"U0126","t":64,"v":97,"e":9},{"g":"U0126","t":65,"v":93,"e":9},{"g":"U0126","t":66,"v":102,"e":9},{"g":"U0126","t":67,"v":91,"e":9},{"g":"U0126","t":68,"v":93,"e":9},{"g":"U0126","t":69,"v":89,"e":9},{"g":"U0126","t":70,"v":89,"e":9},{"g":"U0126","t":71,"v":91,"e":9},{"g":"U0126","t":72,"v":99,"e":12},{"g":"U0126","t":73,"v":88,"e":9},{"g":"U0126","t":74,"v":92,"e":9},{"g":"U0126","t":75,"v":84,"e":9},{"g":"U0126","t":76,"v":79,"e":9},{"g":"U0126","t":77,"v":87,"e":9},{"g":"U0126","t":78,"v":94,"e":9},{"g":"U0126","t":79,"v":96,"e":9},{"g":"U0126","t":80,"v":103,"e":9},{"g":"U0126","t":81,"v":95,"e":9},{"g":"U0126","t":82,"v":91,"e":9},{"g":"U0126","t":83,"v":97,"e":9},{"g":"U0126","t":84,"v":85,"e":9},{"g":"U0126","t":85,"v":93,"e":9}
]
},
"vconcat":[
{"spacing":48,"resolve":{"scale":{"fill":"independent"},"legend":{"fill":"independent"}},"hconcat":[
 {"width":373,"height":250,
  "title":{"text":"A.","dx":-38,"offset":40},
  "encoding":{
   "x":{"field":"t","type":"quantitative","scale":{"domain":[0,90],"nice":false},"axis":{"title":"Time (min)","values":[0,10,20,30,40,50,60,70,80,90]}},
   "y":{"field":"v","type":"quantitative","scale":{"domain":[0,150],"nice":false},"axis":{"title":"Normalized fEPSP Slope","values":[0,50,100,150]}}},
  "layer":[
   {"data":{"values":[{"t":0,"t2":90,"v":100}]},"mark":{"type":"rule","strokeDash":[5,4],"strokeWidth":1.5,"color":"black"},"encoding":{"x2":{"field":"t2"}}},
   {"data":{"values":[{"t":21.9,"t2":32.7,"v":117.4}]},"mark":{"type":"rule","strokeWidth":2,"color":"black"},"encoding":{"x2":{"field":"t2"}}},
   {"data":{"values":[{"t":27.3,"v":122.8,"label":"DHPG"}]},"mark":{"type":"text"},"encoding":{"text":{"field":"label"}}},
   {"data":{"name":"A"},"mark":{"type":"errorbar","ticks":false,"color":"black","thickness":1},"encoding":{"yError":{"field":"e"},"detail":{"field":"g"}}},
   {"data":{"name":"A"},"mark":{"type":"circle","size":100,"stroke":"black","strokeWidth":1,"opacity":1},
    "encoding":{"fill":{"field":"g","type":"nominal","scale":{"domain":["25","50","75"],"range":["#ffffff","#9b9b9b","#262626"]},"legend":{"labelExpr":"datum.label + '\u00a0\u00a0µM'","rowPadding":-2,"labelOffset":11,"symbolSize":120,"labelFontSize":15,"legendX":283,"legendY":200}}}}
  ]},
 {"width":374,"height":250,
  "title":{"text":"B.","dx":-37,"offset":-5},
  "encoding":{
   "x":{"field":"t","type":"quantitative","scale":{"domain":[0,100],"nice":false},"axis":{"title":"Time (min)","values":[0,10,20,30,40,50,60,70,80,90,100]}},
   "y":{"field":"v","type":"quantitative","scale":{"domain":[25,150],"nice":false},"axis":{"title":"Normalized fEPSP Slope","values":[25,50,75,100,125,150]}}},
  "layer":[
   {"data":{"values":[{"t":0,"t2":100,"v":100}]},"mark":{"type":"rule","strokeDash":[5,4],"strokeWidth":1.5,"color":"black"},"encoding":{"x2":{"field":"t2"}}},
   {"data":{"values":[{"t":3.8,"t2":33.5,"v":112}]},"mark":{"type":"rule","strokeDash":[6,4],"strokeWidth":2,"color":"black"},"encoding":{"x2":{"field":"t2"}}},
   {"data":{"values":[{"t":23,"t2":33.9,"v":123.3}]},"mark":{"type":"rule","strokeWidth":2,"color":"black"},"encoding":{"x2":{"field":"t2"}}},
   {"data":{"values":[{"t":85.8,"t2":90.7,"v":141.2}]},"mark":{"type":"rule","strokeWidth":1.3,"color":"black"},"encoding":{"x2":{"field":"t2"}}},
   {"data":{"values":[{"t":85.8,"v":141.2,"v2":147}]},"mark":{"type":"rule","strokeWidth":1.3,"color":"black"},"encoding":{"y2":{"field":"v2"}}},
   {"data":{"values":[
     {"id":"a1","t":14.65,"v":164.5},{"id":"a1","t":14.88,"v":169.8},{"id":"a1","t":15.06,"v":154.5},{"id":"a1","t":15.33,"v":164.5},{"id":"a1","t":15.69,"v":164.8},{"id":"a1","t":16.8,"v":164.2},{"id":"a1","t":18.53,"v":164.0},{"id":"a1","t":20.3,"v":163.7},{"id":"a1","t":21.6,"v":162.0},{"id":"a1","t":22.99,"v":157.8},{"id":"a1","t":24.3,"v":152.0},{"id":"a1","t":25.7,"v":146.2},{"id":"a1","t":27.0,"v":142.0},{"id":"a1","t":28.3,"v":139.5},{"id":"a1","t":29.2,"v":138.7},{"id":"a1","t":30.3,"v":139.5},{"id":"a1","t":31.4,"v":142.0},{"id":"a1","t":32.8,"v":146.2},{"id":"a1","t":34.6,"v":152.0},{"id":"a1","t":36.35,"v":157.0},{"id":"a1","t":38.1,"v":160.3},{"id":"a1","t":39.9,"v":162.8},{"id":"a1","t":41.7,"v":164.5},{"id":"a1","t":43.3,"v":165.7},
     {"id":"a2","t":32.8,"v":146.2},{"id":"a2","t":34.6,"v":151.5},{"id":"a2","t":36.35,"v":156.2},{"id":"a2","t":38.1,"v":159.2},{"id":"a2","t":39.9,"v":161.5},{"id":"a2","t":41.7,"v":162.8},{"id":"a2","t":43.3,"v":163.7},
     {"id":"b1","t":53.48,"v":164.5},{"id":"b1","t":53.74,"v":170.8},{"id":"b1","t":53.92,"v":156.2},{"id":"b1","t":54.1,"v":164.5},{"id":"b1","t":54.63,"v":164.2},{"id":"b1","t":55.97,"v":163.7},{"id":"b1","t":57.75,"v":163.3},{"id":"b1","t":59.54,"v":162.0},{"id":"b1","t":61.32,"v":157.8},{"id":"b1","t":62.65,"v":152.8},{"id":"b1","t":63.99,"v":146.2},{"id":"b1","t":64.88,"v":142.0},{"id":"b1","t":65.95,"v":138.7},{"id":"b1","t":66.84,"v":137.8},{"id":"b1","t":68.0,"v":139.5},{"id":"b1","t":69.34,"v":144.5},{"id":"b1","t":70.68,"v":148.7},{"id":"b1","t":72.0,"v":153.7},{"id":"b1","t":73.8,"v":157.8},{"id":"b1","t":75.1,"v":159.5},{"id":"b1","t":77.36,"v":160.3},{"id":"b1","t":79.14,"v":162.0},{"id":"b1","t":80.93,"v":163.7},{"id":"b1","t":82.26,"v":164.8},
     {"id":"b2","t":61.32,"v":157.8},{"id":"b2","t":62.65,"v":154.5},{"id":"b2","t":63.99,"v":151.2},{"id":"b2","t":65.33,"v":148.7},{"id":"b2","t":66.66,"v":147.0},{"id":"b2","t":68.0,"v":147.0},{"id":"b2","t":69.34,"v":147.8},{"id":"b2","t":70.68,"v":149.5},{"id":"b2","t":72.0,"v":152.8},{"id":"b2","t":73.8,"v":156.2},{"id":"b2","t":75.58,"v":158.2},{"id":"b2","t":77.36,"v":158.7},{"id":"b2","t":78.7,"v":157.8},{"id":"b2","t":80.04,"v":160.3},{"id":"b2","t":81.37,"v":162.8},{"id":"b2","t":82.26,"v":164.5}
   ]},"mark":{"type":"line","color":"black","strokeWidth":1.3},"encoding":{"detail":{"field":"id"}}},
   {"data":{"values":[{"t":28.4,"v":127.3,"label":"DHPG"},{"t":18.5,"v":116.2,"label":"VU-29"},{"t":13.2,"v":84.5,"label":"1"},{"t":85.7,"v":81.5,"label":"2"}]},"mark":{"type":"text"},"encoding":{"text":{"field":"label"}}},
   {"data":{"values":[{"t":12.3,"v":167.8,"label":"1,2"},{"t":29.2,"v":171.2,"label":"Vehicle"},{"t":50.2,"v":167.8,"label":"1,2"},{"t":67.4,"v":171.2,"label":"VU-29"},{"t":91.35,"v":145.8,"label":"1mV"},{"t":89.2,"v":136.5,"label":"2.5ms"}]},"mark":{"type":"text","fontWeight":"normal","fontSize":14},"encoding":{"text":{"field":"label"}}},
   {"data":{"name":"B"},"mark":{"type":"errorbar","ticks":false,"color":"black","thickness":1},"encoding":{"yError":{"field":"e"},"detail":{"field":"g"}}},
   {"data":{"name":"B"},"mark":{"type":"circle","size":100,"stroke":"black","strokeWidth":1,"opacity":1},
    "encoding":{"fill":{"field":"g","type":"nominal","scale":{"domain":["Vehicle","VU-29"],"range":["#ffffff","#4f4f4f"]},"legend":{"labelOffset":5,"rowPadding":3,"legendX":281,"legendY":203}}}}
  ]}
]},
{"spacing":41,"resolve":{"scale":{"fill":"independent"},"legend":{"fill":"independent"}},"hconcat":[
 {"width":373,"height":250,
  "title":{"text":"C.","dx":-40,"offset":12},
  "encoding":{
   "x":{"field":"t","type":"quantitative","scale":{"domain":[0,100],"nice":false},"axis":{"title":"Time (min)","values":[0,10,20,30,40,50,60,70,80,90,100]}},
   "y":{"field":"v","type":"quantitative","scale":{"domain":[25,150],"nice":false},"axis":{"title":"Normalized fEPSP Slope","values":[25,50,75,100,125,150]}}},
  "layer":[
   {"data":{"values":[{"t":0,"t2":100,"v":100}]},"mark":{"type":"rule","strokeDash":[5,4],"strokeWidth":1.5,"color":"black"},"encoding":{"x2":{"field":"t2"}}},
   {"data":{"values":[{"t":32.5,"t2":43.75,"v":132},{"t":12.7,"t2":43.3,"v":123.3},{"t":3.3,"t2":43.3,"v":113.7}]},"mark":{"type":"rule","strokeWidth":2,"color":"black"},"encoding":{"x2":{"field":"t2"}}},
   {"data":{"values":[{"t":38,"v":135.8,"label":"DHPG"},{"t":28,"v":127,"label":"VU-29"},{"t":23.4,"v":118,"label":"5MPEP"}]},"mark":{"type":"text"},"encoding":{"text":{"field":"label"}}},
   {"data":{"name":"C"},"mark":{"type":"errorbar","ticks":false,"color":"black","thickness":1},"encoding":{"yError":{"field":"e"},"detail":{"field":"g"}}},
   {"data":{"name":"C"},"mark":{"type":"circle","size":100,"stroke":"black","strokeWidth":1,"opacity":1},
    "encoding":{"fill":{"field":"g","type":"nominal","scale":{"domain":["VU-29","5MPEP"],"range":["#ffffff","#4f4f4f"]},"legend":{"labelOffset":6,"rowPadding":4,"legendX":285,"legendY":203}}}}
  ]},
 {"width":377,"height":250,
  "title":{"text":"D.","dx":-39,"offset":11},
  "encoding":{
   "x":{"field":"t","type":"quantitative","scale":{"domain":[0,90],"nice":false},"axis":{"title":"Time (min)","values":[0,10,20,30,40,50,60,70,80,90]}},
   "y":{"field":"v","type":"quantitative","scale":{"domain":[0,200],"nice":false},"axis":{"title":"Normalized fEPSP\u00a0\u00a0\u00a0Slope","values":[0,50,100,150,200]}}},
  "layer":[
   {"data":{"values":[{"t":0,"t2":90.5,"v":100},{"t":1.4,"t2":90.5,"v":182.5}]},"mark":{"type":"rule","strokeDash":[8,6],"strokeWidth":2,"color":"black"},"encoding":{"x2":{"field":"t2"}}},
   {"data":{"values":[{"t":21.6,"t2":32.4,"v":152.6},{"t":3.7,"t2":31.7,"v":136.2}]},"mark":{"type":"rule","strokeWidth":2,"color":"black"},"encoding":{"x2":{"field":"t2"}}},
   {"data":{"values":[{"t":26.8,"v":159,"label":"DHPG"},{"t":17.3,"v":143.3,"label":"VU-29"},{"t":7.5,"v":190,"label":"U0126"}]},"mark":{"type":"text"},"encoding":{"text":{"field":"label"}}},
   {"data":{"name":"D"},"mark":{"type":"errorbar","ticks":false,"color":"black","thickness":1},"encoding":{"yError":{"field":"e"},"detail":{"field":"g"}}},
   {"data":{"name":"D"},"mark":{"type":"circle","size":100,"stroke":"black","strokeWidth":1,"opacity":1},
    "encoding":{"fill":{"field":"g","type":"nominal","scale":{"domain":["Vehicle","U0126"],"range":["#ffffff","#4f4f4f"]},"legend":{"labelOffset":7,"rowPadding":2,"legendX":286,"legendY":208}}}}
  ]}
]}
]
}
